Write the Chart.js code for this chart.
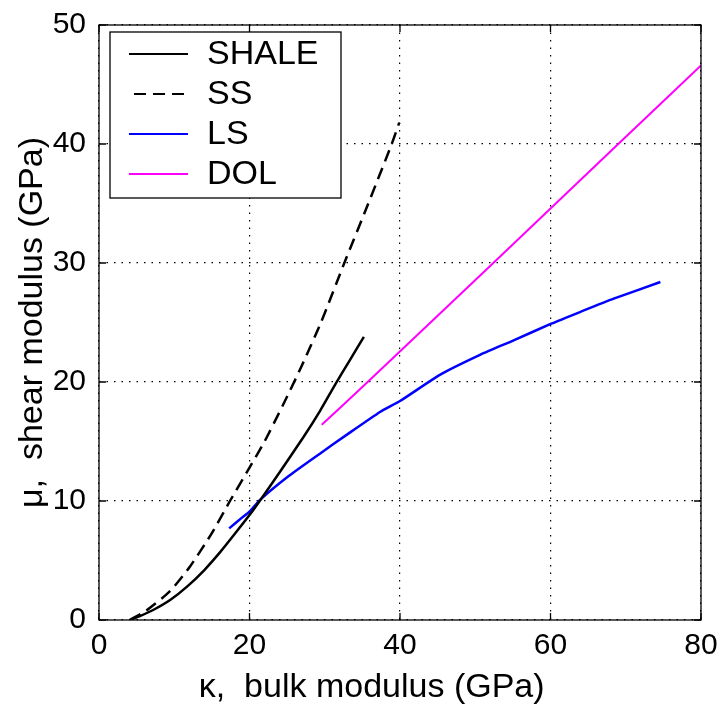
<!DOCTYPE html>
<html>
<head>
<meta charset="utf-8">
<script src="https://cdn.jsdelivr.net/npm/chart.js@4.4.1/dist/chart.umd.min.js"></script>
<style>
  body { margin: 0; background: #fff; }
  #wrap { width: 720px; height: 710px; }
</style>
</head>
<body>
<div id="wrap"><canvas id="modChart" width="720" height="710"></canvas></div>
<script>
// axis ticks
const xTicks = [0, 20, 40, 60, 80];
const yTicks = [0, 10, 20, 30, 40, 50];

// SHALE (solid black)
const shaleK  = [4.1, 5.5, 7.2, 9.5, 11.7, 14.0, 16.1, 18.0, 20.1, 21.8, 24.1, 27.2, 29.4, 31.4, 33.3, 35.2];
const shaleMu = [0.0, 0.35, 0.84, 1.7, 2.8, 4.2, 5.7, 7.2, 8.9, 10.4, 12.5, 15.4, 17.6, 19.8, 21.8, 23.8];

// SS (dashed black)
const ssK  = [4.1, 6.3, 9.4, 12.1, 15.0, 17.4, 20.0, 22.0, 24.4, 26.9, 29.5, 32.6, 35.6, 38.9, 39.9];
const ssMu = [0.0, 0.8, 2.4, 4.5, 7.3, 10.0, 12.8, 15.0, 18.0, 21.3, 25.0, 30.0, 34.7, 40.0, 41.8];

// LS (blue)
const lsK  = [17.3, 19.0, 20.0, 21.4, 25.0, 29.4, 33.0, 37.4, 40.0, 45.3, 50.7, 55.1, 60.1, 64.0, 68.4, 74.6];
const lsMu = [7.7, 8.6, 9.1, 10.1, 12.0, 14.0, 15.6, 17.5, 18.4, 20.6, 22.3, 23.5, 24.9, 25.9, 27.0, 28.4];

// DOL (magenta)
const dolK  = [29.6, 35.7, 52.4, 69.0, 80.0];
const dolMu = [16.4, 20.0, 30.0, 40.0, 46.6];

function pts(xs, ys) {
    return xs.map(function (x, i) { return { x: x, y: ys[i] }; });
}

const FONT = "'Liberation Sans', Arial, Helvetica, sans-serif";

// box, inward tick marks and legend drawn like the original figure
const framePlugin = {
    id: 'frame',
    afterDatasetsDraw(chart) {
        const ctx = chart.ctx;
        const a = chart.chartArea;
        const xs = chart.scales.x, ys = chart.scales.y;
        const tl = 7;
        ctx.save();
        ctx.strokeStyle = '#000';
        ctx.lineWidth = 1.3;
        ctx.setLineDash([]);
        ctx.strokeRect(a.left, a.top, a.right - a.left, a.bottom - a.top);
        ctx.beginPath();
        xTicks.forEach(function (v) {
            const px = xs.getPixelForValue(v);
            ctx.moveTo(px, a.bottom); ctx.lineTo(px, a.bottom - tl);
            ctx.moveTo(px, a.top); ctx.lineTo(px, a.top + tl);
        });
        yTicks.forEach(function (v) {
            const py = ys.getPixelForValue(v);
            ctx.moveTo(a.left, py); ctx.lineTo(a.left + tl, py);
            ctx.moveTo(a.right, py); ctx.lineTo(a.right - tl, py);
        });
        ctx.stroke();

        // legend
        const bx = 110, by = 32, bw = 231, bh = 166;
        ctx.fillStyle = '#fff';
        ctx.fillRect(bx, by, bw, bh);
        ctx.strokeRect(bx, by, bw, bh);
        ctx.font = '34px ' + FONT;
        ctx.textBaseline = 'middle';
        ctx.textAlign = 'left';
        chart.data.datasets.forEach(function (ds, i) {
            const cy = 54 + i * 40;
            ctx.strokeStyle = ds.borderColor;
            ctx.lineWidth = 2.2;
            ctx.setLineDash(ds.borderDash || []);
            ctx.beginPath();
            ctx.moveTo(ds.borderDash ? 134 : 129, cy);
            ctx.lineTo(188, cy);
            ctx.stroke();
            ctx.setLineDash([]);
            ctx.fillStyle = '#000';
            ctx.fillText(ds.label, 207, cy + 1);
        });
        ctx.restore();
    }
};

const ctx = document.getElementById('modChart').getContext('2d');
const modChart = new Chart(ctx, {
    type: 'line',
    data: {
        datasets: [
            { label: 'SHALE', data: pts(shaleK, shaleMu), borderColor: '#000000', borderWidth: 2.5 },
            { label: 'SS', data: pts(ssK, ssMu), borderColor: '#000000', borderWidth: 2.5, borderDash: [12, 7] },
            { label: 'LS', data: pts(lsK, lsMu), borderColor: '#0000ff', borderWidth: 2.5 },
            { label: 'DOL', data: pts(dolK, dolMu), borderColor: '#ff00ff', borderWidth: 2 }
        ]
    },
    options: {
        responsive: false,
        animation: false,
        devicePixelRatio: 1,
        layout: { padding: { top: 25, right: 19, left: 0, bottom: 0 } },
        elements: { point: { radius: 0 }, line: { tension: 0.2, fill: false } },
        plugins: {
            legend: { display: false },
            tooltip: { enabled: false }
        },
        scales: {
            x: {
                type: 'linear',
                min: 0, max: 80,
                afterFit: function (s) { s.height = 90; s.paddingLeft = 0; s.paddingRight = 0; },
                afterBuildTicks: function (s) { s.ticks = xTicks.map(function (v) { return { value: v }; }); },
                ticks: { font: { size: 30, family: FONT }, color: '#000', padding: 8, maxRotation: 0 },
                grid: { color: '#000', lineWidth: 1.2, drawTicks: false },
                border: { display: false, dash: [1.5, 6] },
                title: {
                    display: true,
                    text: 'κ,  bulk modulus (GPa)      ',
                    font: { size: 34, family: FONT },
                    color: '#000',
                    padding: { top: 0, bottom: 2 }
                }
            },
            y: {
                type: 'linear',
                min: 0, max: 50,
                afterFit: function (s) { s.width = 99; s.paddingTop = 0; s.paddingBottom = 0; },
                afterBuildTicks: function (s) { s.ticks = yTicks.map(function (v) { return { value: v }; }); },
                ticks: { font: { size: 30, family: FONT }, color: '#000', padding: 13 },
                grid: { color: '#000', lineWidth: 1.2, drawTicks: false },
                border: { display: false, dash: [1.5, 6] },
                title: {
                    display: true,
                    text: 'μ,  shear modulus (GPa)',
                    font: { size: 34, family: FONT },
                    color: '#000',
                    padding: { top: 12, bottom: 0 }
                }
            }
        }
    },
    plugins: [framePlugin]
});
</script>
</body>
</html>
